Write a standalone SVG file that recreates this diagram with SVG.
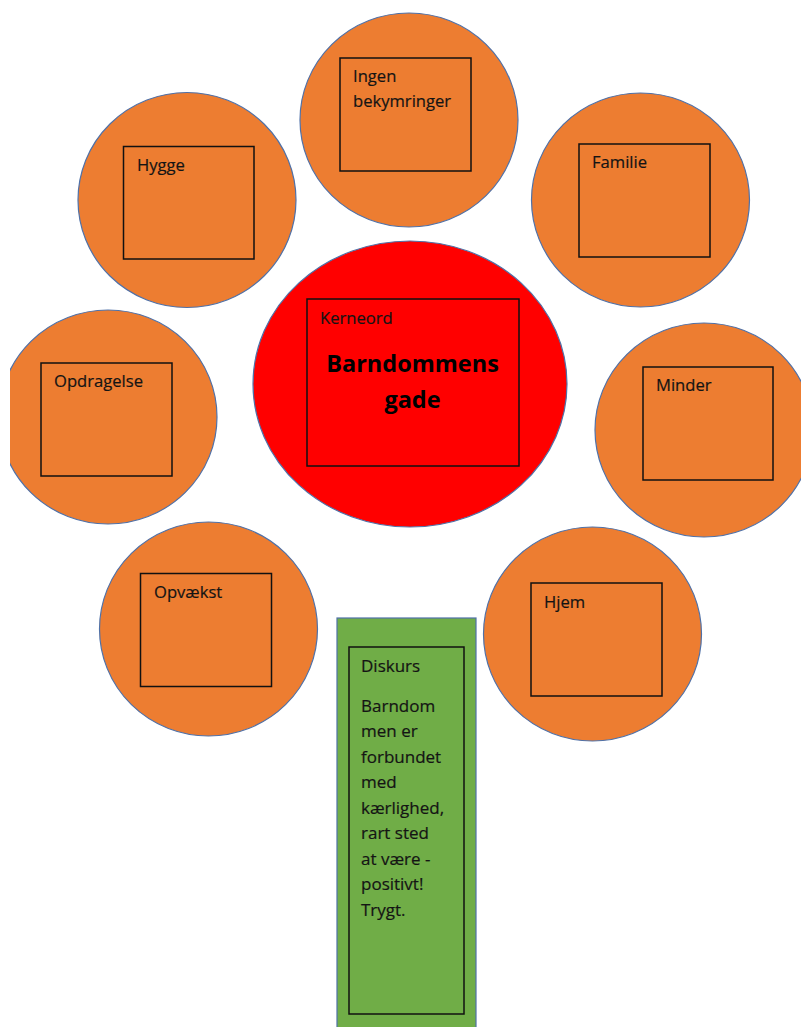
<svg xmlns="http://www.w3.org/2000/svg" width="801" height="1027" viewBox="0 0 801 1027">
<style>
.c{fill:#ED7D31;stroke:#4F71A8;stroke-width:1.2}
.core{fill:#FF0000;stroke:#4F71A8;stroke-width:1.2}
.stem{fill:#70AD47;stroke:#4F71A8;stroke-width:1.2}
.b{fill:none;stroke:#111;stroke-width:1.5}
.t{font-family:"Open Sans","Liberation Sans",sans-serif;font-size:16.6px;fill:#141414;stroke:#141414;stroke-width:0.2}
.g{font-family:"Open Sans","Liberation Sans",sans-serif;font-size:17px;fill:#141414;stroke:#141414;stroke-width:0.2}
.big{font-family:"Open Sans","Liberation Sans",sans-serif;font-size:23.5px;font-weight:bold;fill:#000;text-anchor:middle}
</style>
<defs>
<clipPath id="clipL"><rect x="10" y="0" width="791" height="1027"/></clipPath>
</defs>
<rect width="801" height="1027" fill="#fff"/>
<g id="connectors"></g>
<g id="ingen">
<ellipse class="c" cx="409" cy="120" rx="109" ry="107"/>
<rect class="b" x="340" y="58" width="131" height="113"/>
<text class="t" x="353" y="82">Ingen</text>
<text class="t" x="353" y="107">bekymringer</text>
</g>
<g id="hygge">
<ellipse class="c" cx="187" cy="200" rx="109" ry="107.5"/>
<rect class="b" x="123.5" y="146.5" width="130.5" height="112.5"/>
<text class="t" x="137" y="171">Hygge</text>
</g>
<g id="familie">
<ellipse class="c" cx="640.5" cy="200" rx="109" ry="107"/>
<rect class="b" x="579" y="144" width="131" height="113"/>
<text class="t" x="592" y="168">Familie</text>
</g>
<g id="opdragelse">
<ellipse class="c" cx="108" cy="417" rx="109" ry="107" clip-path="url(#clipL)"/>
<rect class="b" x="41" y="363" width="131" height="113"/>
<text class="t" x="54" y="387">Opdragelse</text>
</g>
<g id="minder">
<ellipse class="c" cx="704" cy="430" rx="109" ry="107"/>
<rect class="b" x="643" y="367" width="130" height="113"/>
<text class="t" x="656" y="391">Minder</text>
</g>
<g id="opvaekst">
<ellipse class="c" cx="208.5" cy="629" rx="109" ry="107"/>
<rect class="b" x="140.5" y="573.5" width="131" height="113"/>
<text class="t" x="154" y="598">Opvækst</text>
</g>
<g id="hjem">
<ellipse class="c" cx="592.5" cy="634" rx="109" ry="107"/>
<rect class="b" x="531" y="583" width="131" height="113"/>
<text class="t" x="544" y="608">Hjem</text>
</g>
<g id="kerneord">
<ellipse class="core" cx="410" cy="384" rx="157" ry="143"/>
<rect class="b" x="307" y="299" width="212" height="167"/>
<text class="t" x="320" y="324">Kerneord</text>
<text class="big" x="412.5" y="372">Barndommens</text>
<text class="big" x="412.5" y="408">gade</text>
</g>
<g id="diskurs">
<rect class="stem" x="337" y="618" width="139" height="412"/>
<rect class="b" x="349" y="647" width="115" height="367"/>
<text class="g" x="361" y="671.5">Diskurs</text>
<text class="g" x="361" y="711.5">Barndom</text>
<text class="g" x="361" y="737">men er</text>
<text class="g" x="361" y="762.5">forbundet</text>
<text class="g" x="361" y="788">med</text>
<text class="g" x="361" y="813.5">kærlighed,</text>
<text class="g" x="361" y="839">rart sted</text>
<text class="g" x="361" y="864.5">at være -</text>
<text class="g" x="361" y="890">positivt!</text>
<text class="g" x="361" y="915.5">Trygt.</text>
</g>
</svg>
